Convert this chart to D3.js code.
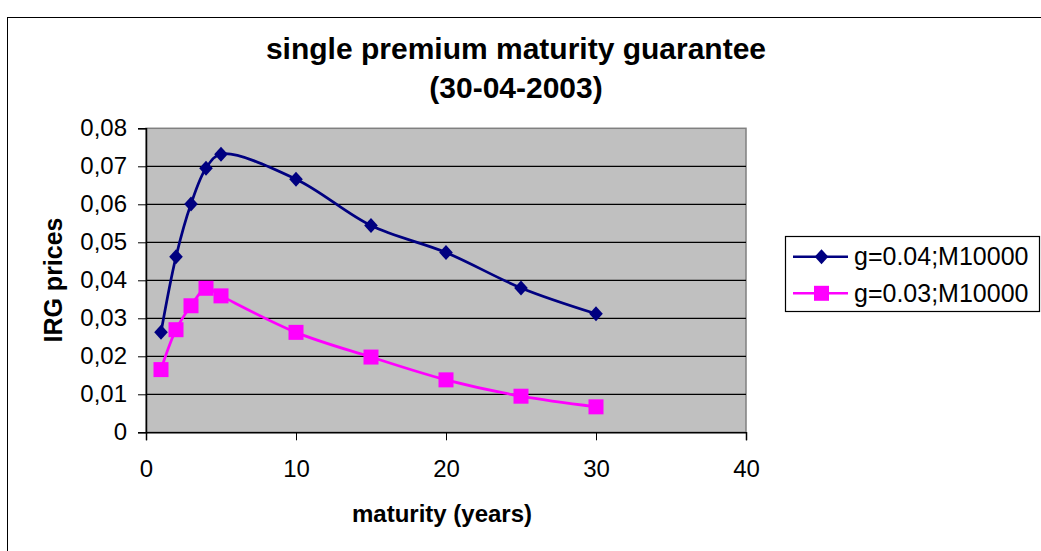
<!DOCTYPE html>
<html>
<head>
<meta charset="utf-8">
<script src="https://cdn.jsdelivr.net/npm/d3@7"></script>
<style>
  html, body { margin: 0; padding: 0; background: #fff; }
  svg { display: block; font-family: "Liberation Sans", Arial, sans-serif; }
</style>
</head>
<body>
<svg id="chart" width="1041" height="551"></svg>
<script>
// Maturities (years) and IRG prices for two guarantee levels
const maturities = [1, 2, 3, 4, 5, 10, 15, 20, 25, 30];
const pricesG004 = [0.0263, 0.0462, 0.0601, 0.0695, 0.0732, 0.0666, 0.0544, 0.0473, 0.0380, 0.0312];
const pricesG003 = [0.0165, 0.0270, 0.0333, 0.0379, 0.0359, 0.0263, 0.0198, 0.0138, 0.0095, 0.0067];
const seriesNames = ["g=0.04;M10000", "g=0.03;M10000"];
const xTicks = [0, 10, 20, 30, 40];
const yTicks = [0, 0.01, 0.02, 0.03, 0.04, 0.05, 0.06, 0.07, 0.08];
const titleLines = ["single premium maturity guarantee", "(30-04-2003)"];

const svg = d3.select("#chart");
const FONT = "Liberation Sans, Arial, sans-serif";

// outer chart frame
svg.append("rect")
  .attr("x", 7.5).attr("y", 17.5)
  .attr("width", 1040).attr("height", 540)
  .attr("fill", "#fff").attr("stroke", "#000").attr("stroke-width", 1);

const plot = { left: 146, right: 746, top: 128.3, bottom: 432.3 };

const x = d3.scaleLinear().domain([0, 40]).range([plot.left, plot.right]);
const y = d3.scaleLinear().domain([0, 0.08]).range([plot.bottom, plot.top]);

// plot background
svg.append("rect")
  .attr("x", plot.left).attr("y", plot.top)
  .attr("width", plot.right - plot.left).attr("height", plot.bottom - plot.top)
  .attr("fill", "#c0c0c0").attr("stroke", "#808080").attr("stroke-width", 1.5);

// horizontal gridlines
svg.append("g")
  .selectAll("line")
  .data(yTicks.filter(d => d > 0 && d < 0.08))
  .join("line")
  .attr("x1", plot.left).attr("x2", plot.right)
  .attr("y1", d => y(d)).attr("y2", d => y(d))
  .attr("stroke", "#000").attr("stroke-width", 1.2);

const fmtY = d => d === 0 ? "0" : d3.format(".2f")(d).replace(".", ",");

// y axis
const yAxis = svg.append("g")
  .attr("transform", `translate(${plot.left},0)`)
  .call(d3.axisLeft(y).tickValues(yTicks).tickFormat(fmtY).tickSize(8).tickPadding(11));
yAxis.select(".domain").attr("stroke", "#000").attr("stroke-width", 1.5);
yAxis.selectAll(".tick line").attr("stroke", "#000");
yAxis.selectAll(".tick text")
  .attr("font-size", 24).attr("fill", "#000")
  .attr("font-family", FONT);

// x axis
const xAxis = svg.append("g")
  .attr("transform", `translate(0,${plot.bottom})`)
  .call(d3.axisBottom(x).tickValues(xTicks).tickFormat(d3.format("d")).tickSize(8));
xAxis.select(".domain").attr("stroke", "#000").attr("stroke-width", 1.5);
xAxis.selectAll(".tick line").attr("stroke", "#000");
xAxis.selectAll(".tick text")
  .attr("y", 477 - plot.bottom).attr("dy", 0)
  .attr("font-size", 24).attr("fill", "#000")
  .attr("font-family", FONT);

// titles
svg.append("g").selectAll("text")
  .data(titleLines)
  .join("text")
  .attr("x", 516).attr("y", (d, i) => 59 + i * 39.3)
  .attr("text-anchor", "middle")
  .attr("font-size", 30).attr("font-weight", "bold")
  .text(d => d);

svg.append("text")
  .attr("x", 442).attr("y", 522)
  .attr("text-anchor", "middle")
  .attr("font-size", 24).attr("font-weight", "bold")
  .text("maturity (years)");

svg.append("text")
  .attr("transform", "translate(61.5,280) rotate(-90)")
  .attr("text-anchor", "middle")
  .attr("font-size", 25).attr("font-weight", "bold")
  .text("IRG prices");

// series
const series = [
  { name: seriesNames[0], values: pricesG004, color: "#000080", shape: "diamond" },
  { name: seriesNames[1], values: pricesG003, color: "#ff00ff", shape: "square" }
];

const line = d3.line()
  .x(d => x(d[0]))
  .y(d => y(d[1]))
  .curve(d3.curveCatmullRom.alpha(0.5));

function markerPath(shape) {
  if (shape === "diamond") {
    return "M0,-7.5L6.8,0L0,7.5L-6.8,0Z";
  }
  const h = 7.5;
  return `M${-h},${-h}H${h}V${h}H${-h}Z`;
}

series.forEach(s => {
  const pts = maturities.map((m, i) => [m, s.values[i]]);
  svg.append("path")
    .attr("d", line(pts))
    .attr("fill", "none")
    .attr("stroke", s.color)
    .attr("stroke-width", 2.75);
  svg.append("g").selectAll("path")
    .data(pts)
    .join("path")
    .attr("transform", d => `translate(${x(d[0])},${y(d[1])})`)
    .attr("d", markerPath(s.shape))
    .attr("fill", s.color);
});

// legend
const legend = svg.append("g");
legend.append("rect")
  .attr("x", 785.5).attr("y", 236.5)
  .attr("width", 254).attr("height", 75)
  .attr("fill", "#fff").attr("stroke", "#000").attr("stroke-width", 1.2);

series.forEach((s, i) => {
  const cy = 256.7 + i * 36.6;
  legend.append("line")
    .attr("x1", 793).attr("x2", 848)
    .attr("y1", cy).attr("y2", cy)
    .attr("stroke", s.color).attr("stroke-width", 2.5);
  legend.append("path")
    .attr("transform", `translate(821.5,${cy})`)
    .attr("d", markerPath(s.shape))
    .attr("fill", s.color);
  legend.append("text")
    .attr("x", 854).attr("y", cy + 8.2)
    .attr("font-size", 25)
    .text(s.name);
});
</script>
</body>
</html>
